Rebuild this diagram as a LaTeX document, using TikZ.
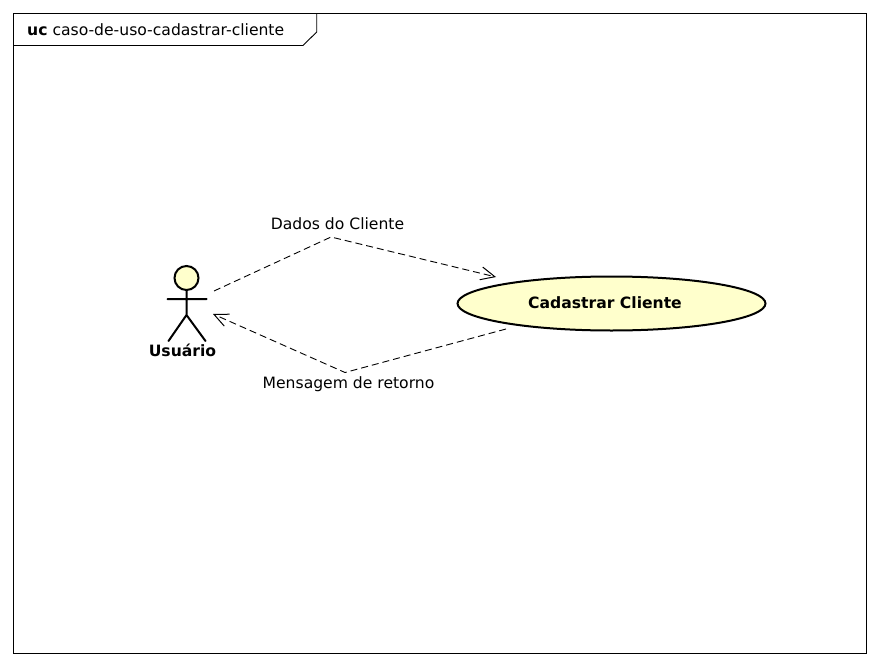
\documentclass[tikz,border=0pt]{standalone}
\usepackage{fontspec}
\setmainfont{DejaVu Sans}
\usetikzlibrary{arrows.meta,shapes.geometric}
\definecolor{ucfill}{HTML}{FFFFCC}
\tikzset{
  x=1pt,y=-1pt,
  framebox/.style={draw=black,line width=0.9pt},
  usecase/.style={ellipse,draw=black,line width=2pt,fill=ucfill,minimum width=308pt,minimum height=54pt,inner sep=0pt},
  boldlbl/.style={font=\fontsize{15.6}{18}\selectfont\bfseries,inner sep=0pt},
  actorline/.style={draw=black,line width=2pt,line cap=round},
  flow/.style={draw=black,line width=0.9pt,dash pattern=on 7pt off 4pt,-{Straight Barb[length=14pt,width=13pt,line width=1pt]}},
  lbl/.style={font=\fontsize{15.6}{18}\selectfont,inner sep=0pt},
}
\begin{document}
\begin{tikzpicture}
\useasboundingbox (0,0) rectangle (880,666);
\node[framebox,minimum width=853pt,minimum height=640pt,inner sep=0pt] (frame) at (440,333.5) {};
\coordinate (tabA) at (13.5,45.5);
\coordinate (tabB) at (303,45.5);
\coordinate (tabC) at (316.7,32);
\coordinate (tabD) at (316.7,14);
\draw[framebox] (tabA) -- (tabB) -- (tabC) -- (tabD);
\node[lbl,anchor=base west] (title) at (27,36) {\textbf{uc} caso-de-uso-cadastrar-cliente};
\node[usecase] (uc) at (611.5,303.5) {};
\node[boldlbl,anchor=base] (uctext) at (605,308.5) {Cadastrar Cliente};
\node[circle,draw=black,line width=2pt,fill=ucfill,minimum size=24pt,inner sep=0pt] (head) at (186.5,278) {};
\coordinate (hip) at (186.5,315);
\coordinate (armL) at (167.5,299);
\coordinate (armR) at (206.5,299);
\coordinate (legL) at (168.5,341);
\coordinate (legR) at (205.5,341);
\draw[actorline] (head.south) -- (hip) (armL) -- (armR) (legL) -- (hip) -- (legR);
\node[boldlbl,anchor=base] (actor) at (182.5,356) {Usuário};
\coordinate (a1) at (214,291);
\coordinate (w1) at (331,237);
\coordinate (u1) at (496,277);
\draw[flow] (a1) -- (w1) -- (u1);
\coordinate (u2) at (506,329);
\coordinate (w2) at (345,372.5);
\coordinate (a2) at (213,314);
\draw[flow] (u2) -- (w2) -- (a2);
\node[lbl,anchor=base] (l1) at (337.5,229) {Dados do Cliente};
\node[lbl,anchor=base] (l2) at (348.5,388) {Mensagem de retorno};
\end{tikzpicture}
\end{document}
